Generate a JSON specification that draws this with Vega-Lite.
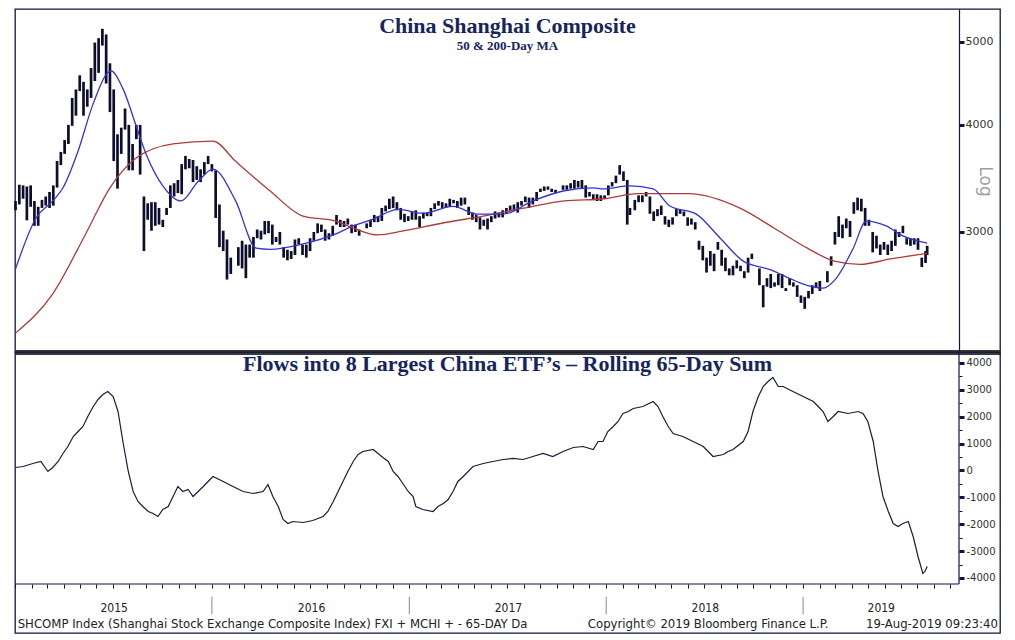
{
"$schema": "https://vega.github.io/schema/vega-lite/v6.json",
"padding": {"left": 12, "top": 8, "right": 17, "bottom": 7},
"background": "white",
"spacing": 0,
"bounds": "flush",
"resolve": {"scale": {"x": "independent", "y": "independent"}},
"config": {
  "view": {"stroke": "#0d1640", "strokeWidth": 1.3},
  "axis": {"labelFont": "DejaVu Sans", "labelColor": "#333333", "grid": false},
  "title": {"font": "Liberation Serif", "fontWeight": "bold", "color": "#16255c", "anchor": "middle", "frame": "group"}
},
"datasets": {
"px": [
{"d":"2015-01-02","h":3260,"l":3180},{"d":"2015-01-09","h":3406,"l":3230},{"d":"2015-01-16","h":3400,"l":3280},{"d":"2015-01-23","h":3390,"l":3095},{"d":"2015-01-30","h":3400,"l":3210},
{"d":"2015-02-06","h":3260,"l":3050},{"d":"2015-02-13","h":3210,"l":3050},{"d":"2015-02-20","h":3270,"l":3200},{"d":"2015-02-27","h":3300,"l":3220},
{"d":"2015-03-06","h":3340,"l":3200},{"d":"2015-03-13","h":3400,"l":3220},{"d":"2015-03-20","h":3630,"l":3380},{"d":"2015-03-27","h":3720,"l":3590},
{"d":"2015-04-03","h":3840,"l":3700},{"d":"2015-04-10","h":4000,"l":3800},{"d":"2015-04-17","h":4300,"l":3990},{"d":"2015-04-24","h":4400,"l":4100},
{"d":"2015-05-01","h":4570,"l":4380},{"d":"2015-05-08","h":4490,"l":4100},{"d":"2015-05-15","h":4400,"l":4200},{"d":"2015-05-22","h":4660,"l":4300},{"d":"2015-05-29","h":4990,"l":4500},
{"d":"2015-06-05","h":5050,"l":4600},{"d":"2015-06-12","h":5178,"l":4950},{"d":"2015-06-19","h":5100,"l":4470},{"d":"2015-06-26","h":4720,"l":4140},
{"d":"2015-07-03","h":4400,"l":3630},{"d":"2015-07-10","h":3900,"l":3370},{"d":"2015-07-17","h":3970,"l":3700},{"d":"2015-07-24","h":4180,"l":3950},{"d":"2015-07-31","h":4000,"l":3540},
{"d":"2015-08-07","h":3800,"l":3540},{"d":"2015-08-14","h":4000,"l":3850},{"d":"2015-08-21","h":4000,"l":3500},{"d":"2015-08-28","h":3300,"l":2850},
{"d":"2015-09-04","h":3240,"l":3100},{"d":"2015-09-11","h":3250,"l":3010},{"d":"2015-09-18","h":3250,"l":3050},{"d":"2015-09-25","h":3200,"l":3060},
{"d":"2015-10-02","h":3100,"l":3040},{"d":"2015-10-09","h":3200,"l":3140},{"d":"2015-10-16","h":3400,"l":3200},{"d":"2015-10-23","h":3420,"l":3300},{"d":"2015-10-30","h":3450,"l":3330},
{"d":"2015-11-06","h":3600,"l":3320},{"d":"2015-11-13","h":3680,"l":3550},{"d":"2015-11-20","h":3650,"l":3560},{"d":"2015-11-27","h":3640,"l":3430},
{"d":"2015-12-04","h":3580,"l":3450},{"d":"2015-12-11","h":3550,"l":3430},{"d":"2015-12-18","h":3620,"l":3500},{"d":"2015-12-25","h":3680,"l":3600},
{"d":"2016-01-01","h":3600,"l":3530},{"d":"2016-01-08","h":3540,"l":3115},{"d":"2016-01-15","h":3230,"l":2880},{"d":"2016-01-22","h":3010,"l":2850},{"d":"2016-01-29","h":2940,"l":2640},
{"d":"2016-02-05","h":2800,"l":2680},{"d":"2016-02-19","h":2880,"l":2740},{"d":"2016-02-26","h":2930,"l":2720},
{"d":"2016-03-04","h":2900,"l":2650},{"d":"2016-03-11","h":2900,"l":2800},{"d":"2016-03-18","h":2960,"l":2800},{"d":"2016-03-25","h":3020,"l":2950},
{"d":"2016-04-01","h":3010,"l":2940},{"d":"2016-04-08","h":3090,"l":2980},{"d":"2016-04-15","h":3090,"l":2990},{"d":"2016-04-22","h":3060,"l":2900},{"d":"2016-04-29","h":2960,"l":2920},
{"d":"2016-05-06","h":3000,"l":2900},{"d":"2016-05-13","h":2880,"l":2800},{"d":"2016-05-20","h":2860,"l":2780},{"d":"2016-05-27","h":2850,"l":2790},
{"d":"2016-06-03","h":2940,"l":2820},{"d":"2016-06-10","h":2950,"l":2900},{"d":"2016-06-17","h":2900,"l":2820},{"d":"2016-06-24","h":2900,"l":2800},
{"d":"2016-07-01","h":2950,"l":2850},{"d":"2016-07-08","h":3000,"l":2930},{"d":"2016-07-15","h":3070,"l":2990},{"d":"2016-07-22","h":3060,"l":3000},{"d":"2016-07-29","h":3020,"l":2930},
{"d":"2016-08-05","h":2990,"l":2940},{"d":"2016-08-12","h":3050,"l":2970},{"d":"2016-08-19","h":3140,"l":3060},{"d":"2016-08-26","h":3100,"l":3040},
{"d":"2016-09-02","h":3090,"l":3040},{"d":"2016-09-09","h":3110,"l":3060},{"d":"2016-09-16","h":3060,"l":2990},{"d":"2016-09-23","h":3060,"l":3000},{"d":"2016-09-30","h":3020,"l":2970},
{"d":"2016-10-14","h":3070,"l":3030},{"d":"2016-10-21","h":3100,"l":3040},{"d":"2016-10-28","h":3140,"l":3080},
{"d":"2016-11-04","h":3130,"l":3080},{"d":"2016-11-11","h":3200,"l":3090},{"d":"2016-11-18","h":3220,"l":3170},{"d":"2016-11-25","h":3280,"l":3190},
{"d":"2016-12-02","h":3300,"l":3200},{"d":"2016-12-09","h":3250,"l":3180},{"d":"2016-12-16","h":3200,"l":3100},{"d":"2016-12-23","h":3150,"l":3080},{"d":"2016-12-30","h":3130,"l":3090},
{"d":"2017-01-06","h":3170,"l":3100},{"d":"2017-01-13","h":3180,"l":3100},{"d":"2017-01-20","h":3130,"l":3040},{"d":"2017-01-27","h":3160,"l":3110},
{"d":"2017-02-03","h":3160,"l":3130},{"d":"2017-02-10","h":3200,"l":3130},{"d":"2017-02-17","h":3240,"l":3190},{"d":"2017-02-24","h":3260,"l":3220},
{"d":"2017-03-03","h":3250,"l":3200},{"d":"2017-03-10","h":3240,"l":3200},{"d":"2017-03-17","h":3280,"l":3210},{"d":"2017-03-24","h":3270,"l":3240},{"d":"2017-03-31","h":3260,"l":3200},
{"d":"2017-04-07","h":3290,"l":3220},{"d":"2017-04-14","h":3290,"l":3230},{"d":"2017-04-21","h":3210,"l":3140},{"d":"2017-04-28","h":3160,"l":3100},
{"d":"2017-05-05","h":3140,"l":3080},{"d":"2017-05-12","h":3120,"l":3020},{"d":"2017-05-19","h":3100,"l":3050},{"d":"2017-05-26","h":3110,"l":3020},
{"d":"2017-06-02","h":3130,"l":3080},{"d":"2017-06-09","h":3170,"l":3110},{"d":"2017-06-16","h":3160,"l":3120},{"d":"2017-06-23","h":3180,"l":3120},{"d":"2017-06-30","h":3200,"l":3150},
{"d":"2017-07-07","h":3220,"l":3170},{"d":"2017-07-14","h":3230,"l":3180},{"d":"2017-07-21","h":3250,"l":3160},{"d":"2017-07-28","h":3260,"l":3220},
{"d":"2017-08-04","h":3300,"l":3250},{"d":"2017-08-11","h":3290,"l":3200},{"d":"2017-08-18","h":3290,"l":3230},{"d":"2017-08-25","h":3340,"l":3260},
{"d":"2017-09-01","h":3370,"l":3340},{"d":"2017-09-08","h":3390,"l":3350},{"d":"2017-09-15","h":3390,"l":3360},{"d":"2017-09-22","h":3370,"l":3340},{"d":"2017-09-29","h":3360,"l":3330},
{"d":"2017-10-13","h":3400,"l":3360},{"d":"2017-10-20","h":3400,"l":3360},{"d":"2017-10-27","h":3420,"l":3370},
{"d":"2017-11-03","h":3450,"l":3370},{"d":"2017-11-10","h":3440,"l":3380},{"d":"2017-11-17","h":3450,"l":3370},{"d":"2017-11-24","h":3400,"l":3290},
{"d":"2017-12-01","h":3340,"l":3300},{"d":"2017-12-08","h":3320,"l":3270},{"d":"2017-12-15","h":3320,"l":3260},{"d":"2017-12-22","h":3310,"l":3260},{"d":"2017-12-29","h":3310,"l":3280},
{"d":"2018-01-05","h":3400,"l":3310},{"d":"2018-01-12","h":3430,"l":3390},{"d":"2018-01-19","h":3490,"l":3420},{"d":"2018-01-26","h":3590,"l":3500},
{"d":"2018-02-02","h":3530,"l":3440},{"d":"2018-02-09","h":3450,"l":3060},{"d":"2018-02-14","h":3200,"l":3140},{"d":"2018-02-23","h":3270,"l":3180},
{"d":"2018-03-02","h":3310,"l":3250},{"d":"2018-03-09","h":3310,"l":3250},{"d":"2018-03-16","h":3340,"l":3300},{"d":"2018-03-23","h":3300,"l":3150},{"d":"2018-03-30","h":3170,"l":3090},
{"d":"2018-04-06","h":3190,"l":3130},{"d":"2018-04-13","h":3220,"l":3140},{"d":"2018-04-20","h":3130,"l":3060},{"d":"2018-04-27","h":3100,"l":3040},
{"d":"2018-05-04","h":3120,"l":3060},{"d":"2018-05-11","h":3190,"l":3130},{"d":"2018-05-18","h":3190,"l":3150},{"d":"2018-05-25","h":3170,"l":3130},
{"d":"2018-06-01","h":3120,"l":3050},{"d":"2018-06-08","h":3110,"l":3060},{"d":"2018-06-15","h":3080,"l":3020},{"d":"2018-06-22","h":2930,"l":2860},{"d":"2018-06-29","h":2890,"l":2780},
{"d":"2018-07-06","h":2800,"l":2690},{"d":"2018-07-13","h":2850,"l":2740},{"d":"2018-07-20","h":2830,"l":2700},{"d":"2018-07-27","h":2920,"l":2860},
{"d":"2018-08-03","h":2860,"l":2740},{"d":"2018-08-10","h":2800,"l":2700},{"d":"2018-08-17","h":2720,"l":2670},{"d":"2018-08-24","h":2740,"l":2670},{"d":"2018-08-31","h":2780,"l":2720},
{"d":"2018-09-07","h":2740,"l":2700},{"d":"2018-09-14","h":2700,"l":2650},{"d":"2018-09-21","h":2800,"l":2690},{"d":"2018-09-28","h":2830,"l":2790},
{"d":"2018-10-12","h":2720,"l":2600},{"d":"2018-10-19","h":2600,"l":2450},{"d":"2018-10-26","h":2650,"l":2590},
{"d":"2018-11-02","h":2680,"l":2580},{"d":"2018-11-09","h":2620,"l":2590},{"d":"2018-11-16","h":2680,"l":2600},{"d":"2018-11-23","h":2680,"l":2580},{"d":"2018-11-30","h":2580,"l":2560},
{"d":"2018-12-07","h":2650,"l":2600},{"d":"2018-12-14","h":2620,"l":2590},{"d":"2018-12-21","h":2600,"l":2520},{"d":"2018-12-28","h":2530,"l":2480},
{"d":"2019-01-04","h":2520,"l":2440},{"d":"2019-01-11","h":2560,"l":2510},{"d":"2019-01-18","h":2600,"l":2540},{"d":"2019-01-25","h":2620,"l":2580},
{"d":"2019-02-01","h":2630,"l":2560},{"d":"2019-02-15","h":2700,"l":2620},{"d":"2019-02-22","h":2810,"l":2740},
{"d":"2019-03-01","h":3000,"l":2900},{"d":"2019-03-08","h":3130,"l":2960},{"d":"2019-03-15","h":3060,"l":2950},{"d":"2019-03-22","h":3110,"l":3030},{"d":"2019-03-29","h":3090,"l":2960},
{"d":"2019-04-05","h":3250,"l":3150},{"d":"2019-04-12","h":3290,"l":3180},{"d":"2019-04-19","h":3280,"l":3170},{"d":"2019-04-26","h":3200,"l":3050},
{"d":"2019-05-03","h":3100,"l":3050},{"d":"2019-05-10","h":3000,"l":2840},{"d":"2019-05-17","h":2970,"l":2870},{"d":"2019-05-24","h":2900,"l":2820},{"d":"2019-05-31","h":2920,"l":2860},
{"d":"2019-06-07","h":2900,"l":2820},{"d":"2019-06-14","h":2930,"l":2850},{"d":"2019-06-21","h":3020,"l":2890},{"d":"2019-06-28","h":3000,"l":2960},
{"d":"2019-07-05","h":3050,"l":2990},{"d":"2019-07-12","h":2950,"l":2900},{"d":"2019-07-19","h":2950,"l":2890},{"d":"2019-07-26","h":2950,"l":2900},
{"d":"2019-08-02","h":2950,"l":2860},{"d":"2019-08-09","h":2800,"l":2730},{"d":"2019-08-16","h":2850,"l":2760},{"d":"2019-08-19","h":2890,"l":2820}
],
"ma50": [
{"d":"2015-01-02","v":2717},{"d":"2015-02-09","v":3115},{"d":"2015-03-12","v":3261},{"d":"2015-03-31","v":3378},{"d":"2015-04-28","v":3729},{"d":"2015-05-26","v":4235},{"d":"2015-06-28","v":4624},{"d":"2015-07-20","v":4409},{"d":"2015-08-17","v":3930},{"d":"2015-09-01","v":3699},{"d":"2015-10-02","v":3396},{"d":"2015-11-05","v":3261},{"d":"2015-12-06","v":3433},{"d":"2016-01-03","v":3552},{"d":"2016-02-14","v":3261},{"d":"2016-03-23","v":2872},{"d":"2016-04-18","v":2863},{"d":"2016-06-18","v":2905},{"d":"2016-08-18","v":2984},{"d":"2016-09-19","v":3049},{"d":"2016-10-26","v":3106},{"d":"2016-12-11","v":3188},{"d":"2017-01-26","v":3155},{"d":"2017-03-23","v":3213},{"d":"2017-05-08","v":3147},{"d":"2017-06-24","v":3147},{"d":"2017-08-18","v":3261},{"d":"2017-10-13","v":3349},{"d":"2017-12-08","v":3378},{"d":"2017-12-26","v":3368},{"d":"2018-02-14","v":3395},{"d":"2018-03-29","v":3368},{"d":"2018-04-29","v":3217},{"d":"2018-06-17","v":3147},{"d":"2018-07-31","v":2952},{"d":"2018-09-12","v":2774},{"d":"2018-11-01","v":2711},{"d":"2018-12-19","v":2628},{"d":"2019-01-14","v":2594},{"d":"2019-02-07","v":2580},{"d":"2019-03-03","v":2647},{"d":"2019-04-04","v":2872},{"d":"2019-04-28","v":3089},{"d":"2019-06-04","v":3049},{"d":"2019-07-05","v":2968},{"d":"2019-08-19","v":2912}
],
"ma200": [
{"d":"2015-01-02","v":2286},{"d":"2015-03-12","v":2541},{"d":"2015-05-12","v":2984},{"d":"2015-06-26","v":3378},{"d":"2015-08-13","v":3656},{"d":"2015-10-21","v":3801},{"d":"2016-01-03","v":3829},{"d":"2016-02-14","v":3627},{"d":"2016-04-18","v":3349},{"d":"2016-06-18","v":3130},{"d":"2016-08-18","v":3089},{"d":"2016-09-19","v":3032},{"d":"2016-11-04","v":2976},{"d":"2016-12-21","v":3008},{"d":"2017-03-04","v":3073},{"d":"2017-05-18","v":3130},{"d":"2017-08-01","v":3198},{"d":"2017-10-15","v":3261},{"d":"2017-12-29","v":3280},{"d":"2018-02-28","v":3325},{"d":"2018-06-02","v":3325},{"d":"2018-09-06","v":3198},{"d":"2018-11-08","v":3032},{"d":"2019-01-09","v":2872},{"d":"2019-02-28","v":2774},{"d":"2019-04-17","v":2750},{"d":"2019-06-12","v":2790},{"d":"2019-08-19","v":2833}
],
"flow": [
{"d":"2015-01-02","v":112},{"d":"2015-01-16","v":149},{"d":"2015-02-03","v":260},{"d":"2015-02-18","v":335},{"d":"2015-03-03","v":-37},{"d":"2015-03-12","v":112},{"d":"2015-03-22","v":335},{"d":"2015-03-31","v":633},{"d":"2015-04-09","v":893},{"d":"2015-04-19","v":1265},{"d":"2015-04-28","v":1451},{"d":"2015-05-07","v":1637},{"d":"2015-05-16","v":2009},{"d":"2015-05-26","v":2381},{"d":"2015-06-04","v":2642},{"d":"2015-06-13","v":2828},{"d":"2015-06-22","v":2940},{"d":"2015-07-02","v":2753},{"d":"2015-07-11","v":2195},{"d":"2015-07-20","v":1079},{"d":"2015-07-30","v":-37},{"d":"2015-08-08","v":-781},{"d":"2015-08-17","v":-1153},{"d":"2015-08-26","v":-1340},{"d":"2015-09-05","v":-1526},{"d":"2015-09-14","v":-1600},{"d":"2015-09-23","v":-1712},{"d":"2015-10-02","v":-1451},{"d":"2015-10-12","v":-1340},{"d":"2015-10-21","v":-967},{"d":"2015-10-30","v":-595},{"d":"2015-11-08","v":-781},{"d":"2015-11-18","v":-707},{"d":"2015-11-27","v":-967},{"d":"2015-12-16","v":-595},{"d":"2015-12-25","v":-409},{"d":"2016-01-03","v":-223},{"d":"2016-01-22","v":-409},{"d":"2016-02-09","v":-595},{"d":"2016-02-28","v":-781},{"d":"2016-03-17","v":-856},{"d":"2016-04-05","v":-781},{"d":"2016-04-14","v":-521},{"d":"2016-04-23","v":-967},{"d":"2016-05-03","v":-1340},{"d":"2016-05-12","v":-1823},{"d":"2016-05-21","v":-1972},{"d":"2016-05-30","v":-1898},{"d":"2016-06-18","v":-1935},{"d":"2016-07-06","v":-1860},{"d":"2016-07-25","v":-1712},{"d":"2016-08-03","v":-1526},{"d":"2016-08-13","v":-1153},{"d":"2016-08-31","v":-409},{"d":"2016-09-09","v":-37},{"d":"2016-09-19","v":335},{"d":"2016-09-28","v":595},{"d":"2016-10-07","v":707},{"d":"2016-10-26","v":781},{"d":"2016-11-04","v":633},{"d":"2016-11-13","v":484},{"d":"2016-11-23","v":335},{"d":"2016-12-02","v":-37},{"d":"2016-12-11","v":-223},{"d":"2016-12-20","v":-484},{"d":"2016-12-30","v":-781},{"d":"2017-01-08","v":-967},{"d":"2017-01-13","v":-1340},{"d":"2017-01-26","v":-1451},{"d":"2017-02-14","v":-1526},{"d":"2017-02-23","v":-1340},{"d":"2017-03-05","v":-1228},{"d":"2017-03-14","v":-1079},{"d":"2017-03-23","v":-781},{"d":"2017-04-01","v":-409},{"d":"2017-04-11","v":-223},{"d":"2017-04-29","v":149},{"d":"2017-05-18","v":260},{"d":"2017-06-05","v":335},{"d":"2017-06-24","v":409},{"d":"2017-07-12","v":447},{"d":"2017-07-31","v":409},{"d":"2017-08-18","v":521},{"d":"2017-09-06","v":633},{"d":"2017-09-24","v":521},{"d":"2017-10-13","v":707},{"d":"2017-11-01","v":856},{"d":"2017-11-19","v":893},{"d":"2017-12-08","v":781},{"d":"2017-12-17","v":1079},{"d":"2017-12-26","v":1079},{"d":"2018-01-04","v":1451},{"d":"2018-01-14","v":1637},{"d":"2018-01-23","v":1823},{"d":"2018-02-01","v":2121},{"d":"2018-02-11","v":2195},{"d":"2018-02-20","v":2307},{"d":"2018-03-10","v":2381},{"d":"2018-03-29","v":2567},{"d":"2018-04-07","v":2381},{"d":"2018-04-16","v":2009},{"d":"2018-04-26","v":1637},{"d":"2018-05-05","v":1377},{"d":"2018-05-23","v":1265},{"d":"2018-06-11","v":1079},{"d":"2018-06-30","v":893},{"d":"2018-07-09","v":707},{"d":"2018-07-18","v":521},{"d":"2018-08-06","v":595},{"d":"2018-08-15","v":707},{"d":"2018-08-24","v":781},{"d":"2018-09-12","v":1079},{"d":"2018-09-21","v":1451},{"d":"2018-09-30","v":2195},{"d":"2018-10-10","v":2753},{"d":"2018-10-19","v":3126},{"d":"2018-10-28","v":3312},{"d":"2018-11-06","v":3460},{"d":"2018-11-16","v":3126},{"d":"2018-11-25","v":3126},{"d":"2018-12-13","v":2940},{"d":"2019-01-01","v":2753},{"d":"2019-01-20","v":2567},{"d":"2019-01-29","v":2381},{"d":"2019-02-07","v":2195},{"d":"2019-02-16","v":1823},{"d":"2019-02-26","v":2009},{"d":"2019-03-07","v":2195},{"d":"2019-03-25","v":2121},{"d":"2019-04-13","v":2195},{"d":"2019-04-22","v":2121},{"d":"2019-05-01","v":1823},{"d":"2019-05-11","v":1079},{"d":"2019-05-20","v":-37},{"d":"2019-05-29","v":-967},{"d":"2019-06-08","v":-1526},{"d":"2019-06-17","v":-1972},{"d":"2019-06-26","v":-2084},{"d":"2019-07-05","v":-1972},{"d":"2019-07-15","v":-1898},{"d":"2019-07-24","v":-2456},{"d":"2019-08-02","v":-3200},{"d":"2019-08-11","v":-3833},{"d":"2019-08-15","v":-3758},{"d":"2019-08-19","v":-3572}
],
"yr": [{"d":"2016-01-01"},{"d":"2017-01-01"},{"d":"2018-01-01"},{"d":"2019-01-01"}],
"one": [{}]
},
"vconcat": [
{
  "width": 985, "height": 343,
  "title": {"text": "China Shanghai Composite", "subtitle": "50 & 200-Day MA", "fontSize": 22, "subtitleFont": "Liberation Serif", "subtitleFontWeight": "bold", "subtitleFontSize": 13, "subtitleColor": "#16255c", "subtitlePadding": 2, "offset": -45},
  "layer": [
    {"data": {"name": "px"}, "mark": {"type": "rule", "color": "#0e0e2c", "strokeWidth": 2.7},
     "encoding": {
       "x": {"field": "d", "type": "temporal", "scale": {"domain": [{"year": 2015, "month": 1, "date": 1}, {"year": 2020, "month": 1, "date": 1}]},
             "axis": {"orient": "bottom", "labels": false, "ticks": false, "title": null, "domainColor": "#3a3a3a", "domainWidth": 5}},
       "y": {"field": "h", "type": "quantitative", "scale": {"type": "log", "domain": [2173, 5461], "nice": false},
             "axis": {"orient": "right", "offset": -41, "values": [3000, 4000, 5000], "labelExpr": "'' + datum.value", "labelFontSize": 11, "labelPadding": 1, "tickSize": 5, "tickWidth": 3, "tickColor": "#0d1640", "domainColor": "#0d1640", "domainWidth": 1.2,
                      "title": "Log", "titleAngle": 90, "titleColor": "#a0a0a0", "titleFont": "DejaVu Sans", "titleFontSize": 17, "titleFontWeight": "normal", "titleX": 25, "titleY": 172, "titleAlign": "center", "titleBaseline": "middle"}},
       "y2": {"field": "l"}
     }},
    {"data": {"name": "ma200"}, "mark": {"type": "line", "color": "#b03a3a", "strokeWidth": 1.3, "interpolate": "monotone"},
     "encoding": {"x": {"field": "d", "type": "temporal"}, "y": {"field": "v", "type": "quantitative"}}},
    {"data": {"name": "ma50"}, "mark": {"type": "line", "color": "#3434d4", "strokeWidth": 1.3, "interpolate": "monotone"},
     "encoding": {"x": {"field": "d", "type": "temporal"}, "y": {"field": "v", "type": "quantitative"}}}
  ]
},
{
  "width": 985, "height": 281,
  "title": {"text": "Flows into 8 Largest China ETF’s – Rolling 65-Day Sum", "fontSize": 22, "offset": -25},
  "resolve": {"axis": {"y": "independent"}},
  "layer": [
    {"data": {"name": "flow"}, "mark": {"type": "line", "color": "#1b1b3b", "strokeWidth": 1.2},
     "encoding": {
       "x": {"field": "d", "type": "temporal", "scale": {"domain": [{"year": 2015, "month": 1, "date": 1}, {"year": 2020, "month": 1, "date": 1}]},
             "axis": {"orient": "bottom", "offset": -49, "domain": false, "title": null, "tickCount": {"interval": "month", "step": 1}, "tickSize": 4, "tickColor": "#0d1640",
                      "tickOpacity": {"condition": {"test": "datum.value > datetime(2019, 9, 20)", "value": 0}, "value": 1},
                      "labelExpr": "month(datum.value) == 6 ? timeFormat(datum.value, '%Y') : ''",
                      "labelOffset": {"condition": {"test": "year(datum.value) == 2019", "value": -20}, "value": 1},
                      "labelPadding": 14, "labelOverlap": false, "labelFlush": false, "labelBound": false,
                      "labelFont": "Liberation Sans Narrow, DejaVu Sans Condensed, Roboto Condensed, sans-serif", "labelFontSize": 12, "labelColor": "#222222"}},
       "y": {"field": "v", "type": "quantitative", "scale": {"domain": [-6047, 4409], "nice": false, "zero": false},
             "axis": {"orient": "right", "offset": -41, "domain": false, "title": null, "values": [-4000, -3000, -2000, -1000, 0, 1000, 2000, 3000, 4000],
                      "labelExpr": "'' + datum.value", "labelFontSize": 10, "labelPadding": 2, "labelOverlap": false,
                      "tickColor": "#0d1640", "tickSize": 5, "tickWidth": 3}}
     }},
    {"data": {"name": "yr"}, "mark": {"type": "rule", "color": "#8a8a8a", "strokeWidth": 1},
     "encoding": {"x": {"field": "d", "type": "temporal"},
                  "y": {"datum": -4700, "type": "quantitative", "axis": {"orient": "right", "offset": -41, "domain": false, "title": null, "labels": false, "values": [-3500, -2500, -1500, -500, 500, 1500, 2500, 3500], "tickColor": "#0d1640", "tickSize": 3, "tickWidth": 1}},
                  "y2": {"datum": -5350}}},
    {"data": {"name": "one"}, "mark": {"type": "rule", "color": "#0d1640", "strokeWidth": 1.2},
     "encoding": {"x": {"datum": {"year": 2015, "month": 1, "date": 1}, "type": "temporal"}, "x2": {"datum": {"year": 2019, "month": 10, "date": 17}}, "y": {"datum": -4223, "type": "quantitative", "axis": null}}},
    {"data": {"name": "one"}, "mark": {"type": "rule", "color": "#0d1640", "strokeWidth": 1.2},
     "encoding": {"x": {"datum": {"year": 2019, "month": 10, "date": 17}, "type": "temporal"}, "y": {"datum": 4409, "type": "quantitative", "axis": null}, "y2": {"datum": -4223}}},
    {"data": {"name": "one"}, "mark": {"type": "text", "text": "SHCOMP Index (Shanghai Stock Exchange Composite Index) FXI + MCHI + - 65-DAY  Da", "align": "left", "baseline": "middle", "font": "Liberation Sans Narrow, DejaVu Sans Condensed, sans-serif", "fontSize": 13, "color": "#222222"},
     "encoding": {"x": {"datum": {"year": 2015, "month": 1, "date": 6}, "type": "temporal"}, "y": {"datum": -5712, "type": "quantitative", "axis": null}}},
    {"data": {"name": "one"}, "mark": {"type": "text", "text": "Copyright© 2019 Bloomberg Finance L.P.", "align": "center", "baseline": "middle", "font": "Liberation Sans Narrow, DejaVu Sans Condensed, sans-serif", "fontSize": 13, "color": "#222222"},
     "encoding": {"x": {"datum": {"year": 2018, "month": 7, "date": 9}, "type": "temporal"}, "y": {"datum": -5712, "type": "quantitative", "axis": null}}},
    {"data": {"name": "one"}, "mark": {"type": "text", "text": "19-Aug-2019 09:23:40", "align": "right", "baseline": "middle", "font": "Liberation Sans Narrow, DejaVu Sans Condensed, sans-serif", "fontSize": 13, "color": "#222222"},
     "encoding": {"x": {"datum": {"year": 2019, "month": 12, "date": 28}, "type": "temporal"}, "y": {"datum": -5712, "type": "quantitative", "axis": null}}}
  ]
}
]
}
